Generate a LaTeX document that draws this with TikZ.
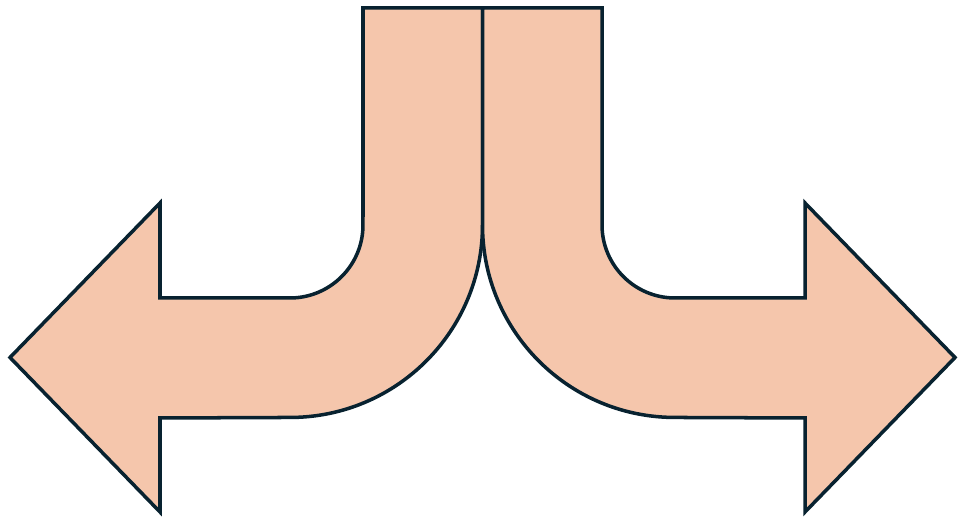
\documentclass[tikz,border=0pt]{standalone}
\usepackage{tikz}
\definecolor{peachfill}{RGB}{245, 198, 172}
\definecolor{navyline}{RGB}{8, 34, 48}

\begin{document}
\begin{tikzpicture}[
    x=0.02cm, y=0.02cm,
    bentarrow/.style={draw=navyline, fill=peachfill, line width=2pt, line join=miter}
]
\useasboundingbox (0,0) rectangle (959,526);

%% left arrow
\draw[bentarrow] (363,518) -- (482.5,518) -- (482.5,301)
    arc[start angle=0, end angle=-90, radius=3.85cm] -- (160,108) -- (160,14)
    -- (10,168.5) -- (160,323) -- (160,228) -- (290,228)
    arc[start angle=-90, end angle=0, radius=1.46cm] -- cycle;

%% right arrow
\draw[bentarrow] (602,518) -- (482.5,518) -- (482.5,301)
    arc[start angle=180, end angle=270, radius=3.85cm] -- (805,108) -- (805,14)
    -- (955,168.5) -- (805,323) -- (805,228) -- (675,228)
    arc[start angle=270, end angle=180, radius=1.46cm] -- cycle;

\end{tikzpicture}
\end{document}
